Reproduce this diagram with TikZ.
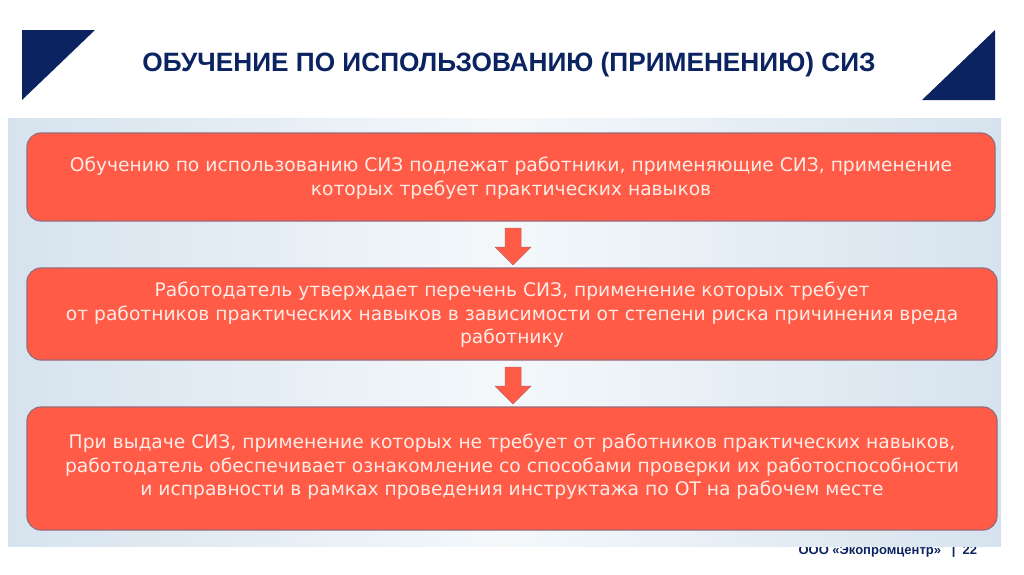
\documentclass[tikz,border=0pt]{standalone}
\usepackage{fontspec}
\setmainfont{DejaVu Sans}
\newfontfamily\titlefont[FakeStretch=0.99]{Liberation Sans}
\newfontfamily\footfont{Liberation Sans}
\definecolor{navy}{HTML}{0B2461}
\definecolor{boxred}{HTML}{FF5B47}
\definecolor{boxedge}{HTML}{9A6A78}
\definecolor{txtw}{HTML}{FDEBE6}
\definecolor{panelL}{HTML}{D6E3EE}
\definecolor{panelM}{HTML}{F4F8FB}
\tikzset{
  stepbox/.style={draw=boxedge, line width=1.2pt, fill=boxred, rounded corners=14pt},
  boxtext/.style={text=txtw, align=center, font=\fontsize{18.7}{23.5}\selectfont},
  downarrow/.style={draw=boxedge!60!boxred, line width=0.5pt, fill=boxred}
}
\begin{document}
\begin{tikzpicture}[x=1pt,y=-1pt]
\useasboundingbox (0,0) rectangle (1024,574);
\fill[white] (0,0) rectangle (1024,574);
% footer (partly under the panel)
\node[font=\footfont\bfseries\fontsize{13}{15}\selectfont, text=navy, anchor=west] (foot) at (795,551) {ООО «Экопромцентр» \ \ |\ \ 22};
% panel
\shade[left color=panelL, right color=panelL, middle color=panelM] (8,118) rectangle (1001,546);
% triangles
\fill[navy] (22,30) -- (95,30) -- (22,100) -- cycle;
\fill[navy] (995,30) -- (995,100) -- (922,100) -- cycle;
% title
\node[font=\titlefont\bfseries\fontsize{26.5}{30}\selectfont, text=navy] (title) at (509,65) {ОБУЧЕНИЕ ПО ИСПОЛЬЗОВАНИЮ (ПРИМЕНЕНИЮ) СИЗ};
% boxes
\draw[stepbox] (27,133) rectangle (995,221);
\node[boxtext] (b1) at (511,178) {Обучению по использованию СИЗ подлежат работники, применяющие СИЗ, применение\\ которых требует практических навыков};
\draw[stepbox] (27,268) rectangle (997,360);
\node[boxtext] (b2) at (512,315) {Работодатель утверждает перечень СИЗ, применение которых требует\\ от работников практических навыков в зависимости от степени риска причинения вреда\\ работнику};
\draw[stepbox] (27,407) rectangle (997,530);
\node[boxtext] (b3) at (512,467) {При выдаче СИЗ, применение которых не требует от работников практических навыков,\\ работодатель обеспечивает ознакомление со способами проверки их работоспособности\\ и исправности в рамках проведения инструктажа по ОТ на рабочем месте};
% arrows
\draw[downarrow] (505,228) -- (521,228) -- (521,247) -- (531,247) -- (513,265) -- (495,247) -- (505,247) -- cycle;
\draw[downarrow] (505,367) -- (521,367) -- (521,386) -- (531,386) -- (513,404) -- (495,386) -- (505,386) -- cycle;
\end{tikzpicture}
\end{document}
